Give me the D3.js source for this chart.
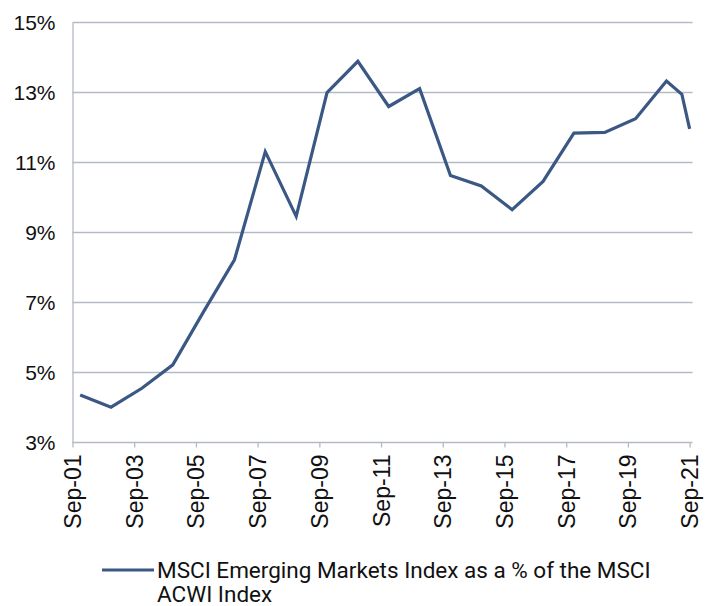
<!DOCTYPE html>
<html>
<head>
<meta charset="utf-8">
<script src="https://d3js.org/d3.v7.min.js"></script>
<style>
    body { margin: 0; background: #fff; }
    svg { display: block; }
</style>
</head>
<body>
<div id="chart"></div>
<script>
// observation dates (year-end points, plus mid and end of Sep 2021)
var dates = [
    "2001-12", "2002-12", "2003-12", "2004-12", "2005-12", "2006-12",
    "2007-12", "2008-12", "2009-12", "2010-12", "2011-12", "2012-12",
    "2013-12", "2014-12", "2015-12", "2016-12", "2017-12", "2018-12",
    "2019-12", "2020-12", "2021-06", "2021-09"
];
// MSCI EM as % of MSCI ACWI
var shares = [
    4.36, 4.01, 4.55, 5.22, 6.74, 8.22,
    11.31, 9.46, 13.0, 13.89, 12.6, 13.11,
    10.63, 10.33, 9.65, 10.46, 11.84, 11.86,
    12.25, 13.33, 12.95, 11.96
];
var yTicks = [3, 5, 7, 9, 11, 13, 15];
var xTicks = ["2001-09", "2003-09", "2005-09", "2007-09", "2009-09", "2011-09",
              "2013-09", "2015-09", "2017-09", "2019-09", "2021-09"];
var seriesName = ["MSCI Emerging Markets Index as a % of the MSCI", "ACWI Index"];

var W = 714, H = 606;
var m = {left: 72.5, right: 692.5, top: 22.5, bottom: 442.5};
var lineColor = "#3b5884", gridColor = "#b3bac5";

var parse = d3.timeParse("%Y-%m");
var data = dates.map((d, i) => ({date: parse(d), v: shares[i]}));

var x = d3.scaleTime()
    .domain([parse("2001-09"), new Date(2021, 9, 5)])
    .range([m.left, m.right]);
var y = d3.scaleLinear().domain([3, 15]).range([m.bottom, m.top]);

var svg = d3.select("#chart").append("svg")
    .attr("width", W)
    .attr("height", H);

// horizontal gridlines
svg.append("g")
    .selectAll("line")
    .data(yTicks.slice(1))
    .join("line")
        .attr("x1", m.left).attr("x2", m.right)
        .attr("y1", d => y(d))
        .attr("y2", d => y(d))
        .attr("stroke", gridColor)
        .attr("stroke-width", 1.3);

// y axis
var yAxis = svg.append("g")
    .attr("transform", "translate(" + m.left + ",0)")
    .call(d3.axisLeft(y).tickValues(yTicks).tickSize(0).tickPadding(17)
        .tickFormat(d => d + "%"));
yAxis.select(".domain").attr("stroke", gridColor).attr("stroke-width", 1.3);
yAxis.selectAll("text")
    .attr("font-family", "Liberation Sans, Arial, sans-serif")
    .attr("font-size", 21)
    .attr("fill", "#111");

// x axis
var xAxis = svg.append("g")
    .attr("transform", "translate(0," + m.bottom + ")")
    .call(d3.axisBottom(x).tickValues(xTicks.map(parse)).tickSize(5).tickSizeOuter(0)
        .tickFormat(d3.timeFormat("%b-%y")));
xAxis.select(".domain").attr("stroke", gridColor).attr("stroke-width", 1.3)
    .attr("d", "M" + m.left + ",0H" + m.right);
xAxis.selectAll(".tick line").attr("stroke", gridColor).attr("stroke-width", 1.3);
xAxis.selectAll("text")
    .attr("font-family", "Liberation Sans, Arial, sans-serif")
    .attr("font-size", 23)
    .attr("fill", "#111")
    .attr("text-anchor", "end")
    .attr("dy", "0.35em")
    .attr("transform", "translate(0,12) rotate(-90)")
    .attr("x", 0)
    .attr("y", 0);

// series line
svg.append("path")
    .datum(data)
    .attr("fill", "none")
    .attr("stroke", lineColor)
    .attr("stroke-width", 3.2)
    .attr("stroke-linejoin", "miter")
    .attr("d", d3.line().x(d => x(d.date)).y(d => y(d.v)));

// legend
var lg = svg.append("g");
lg.append("line")
    .attr("x1", 102).attr("x2", 154)
    .attr("y1", 570).attr("y2", 570)
    .attr("stroke", lineColor)
    .attr("stroke-width", 3.2);
lg.selectAll("text")
    .data(seriesName)
    .join("text")
        .attr("x", 157)
        .attr("y", (d, i) => 577.5 + i * 24)
        .attr("font-family", "Roboto, sans-serif")
        .attr("font-size", 22.5)
        .attr("fill", "#111")
        .text(d => d);
</script>
</body>
</html>
